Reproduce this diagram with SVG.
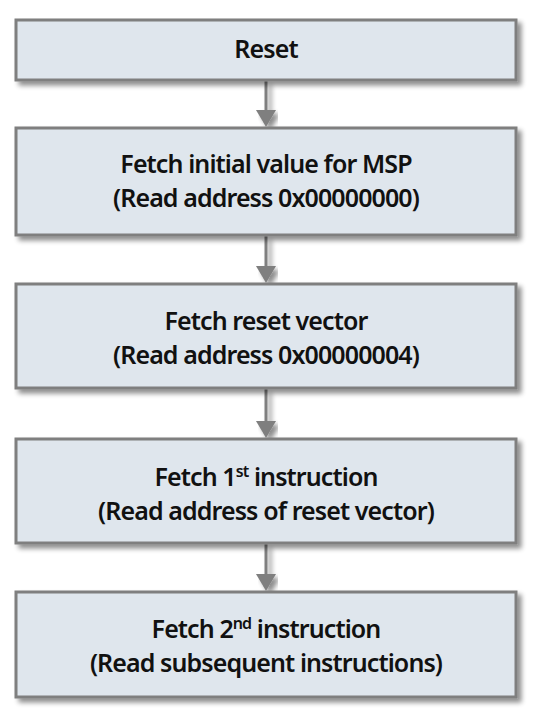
<svg xmlns="http://www.w3.org/2000/svg" width="544" height="722" viewBox="0 0 544 722">
<defs>
<filter id="sh" x="-10%" y="-10%" width="120%" height="130%">
<feGaussianBlur in="SourceAlpha" stdDeviation="2.5"/>
<feOffset dx="4" dy="4" result="b"/>
<feComponentTransfer><feFuncA type="linear" slope="0.45"/></feComponentTransfer>
<feMerge><feMergeNode/><feMergeNode in="SourceGraphic"/></feMerge>
</filter>
</defs>
<style>
.box{fill:#dfe6ed;stroke:#7f7f7f;stroke-width:3}
.t{font-family:"Noto Sans","Open Sans",sans-serif;font-size:25px;font-weight:600;letter-spacing:-0.9px;fill:#111;text-anchor:middle}
.c{stroke:#7f7f7f;stroke-width:3;fill:none}
.sup{font-size:16px}
</style>
<g id="connectors" filter="url(#sh)">
<line class="c" x1="266" y1="81" x2="266" y2="112"/><path d="M256,110 L276,110 L266,127 Z" fill="#7f7f7f"/>
<line class="c" x1="266" y1="236" x2="266" y2="268"/><path d="M256,266 L276,266 L266,283 Z" fill="#7f7f7f"/>
<line class="c" x1="266" y1="389" x2="266" y2="423"/><path d="M256,421 L276,421 L266,438 Z" fill="#7f7f7f"/>
<line class="c" x1="266" y1="544" x2="266" y2="576"/><path d="M256,574 L276,574 L266,591 Z" fill="#7f7f7f"/>
</g>
<g id="n1"><rect class="box" x="16" y="20" width="500" height="60" filter="url(#sh)"/>
<text class="t" x="266" y="58">Reset</text></g>
<g id="n2"><rect class="box" x="16" y="128" width="500" height="107" filter="url(#sh)"/>
<text class="t" x="266" y="173">Fetch initial value for MSP</text>
<text class="t" x="266" y="207">(Read address 0x00000000)</text></g>
<g id="n3"><rect class="box" x="16" y="284" width="500" height="104" filter="url(#sh)"/>
<text class="t" x="266" y="330">Fetch reset vector</text>
<text class="t" x="266" y="364">(Read address 0x00000004)</text></g>
<g id="n4"><rect class="box" x="16" y="439" width="500" height="104" filter="url(#sh)"/>
<text class="t" x="266" y="486">Fetch 1<tspan class="sup" dy="-9">st</tspan><tspan dy="9"> instruction</tspan></text>
<text class="t" x="266" y="520">(Read address of reset vector)</text></g>
<g id="n5"><rect class="box" x="16" y="592" width="500" height="105" filter="url(#sh)"/>
<text class="t" x="266" y="638">Fetch 2<tspan class="sup" dy="-9">nd</tspan><tspan dy="9"> instruction</tspan></text>
<text class="t" x="266" y="672">(Read subsequent instructions)</text></g>
</svg>
